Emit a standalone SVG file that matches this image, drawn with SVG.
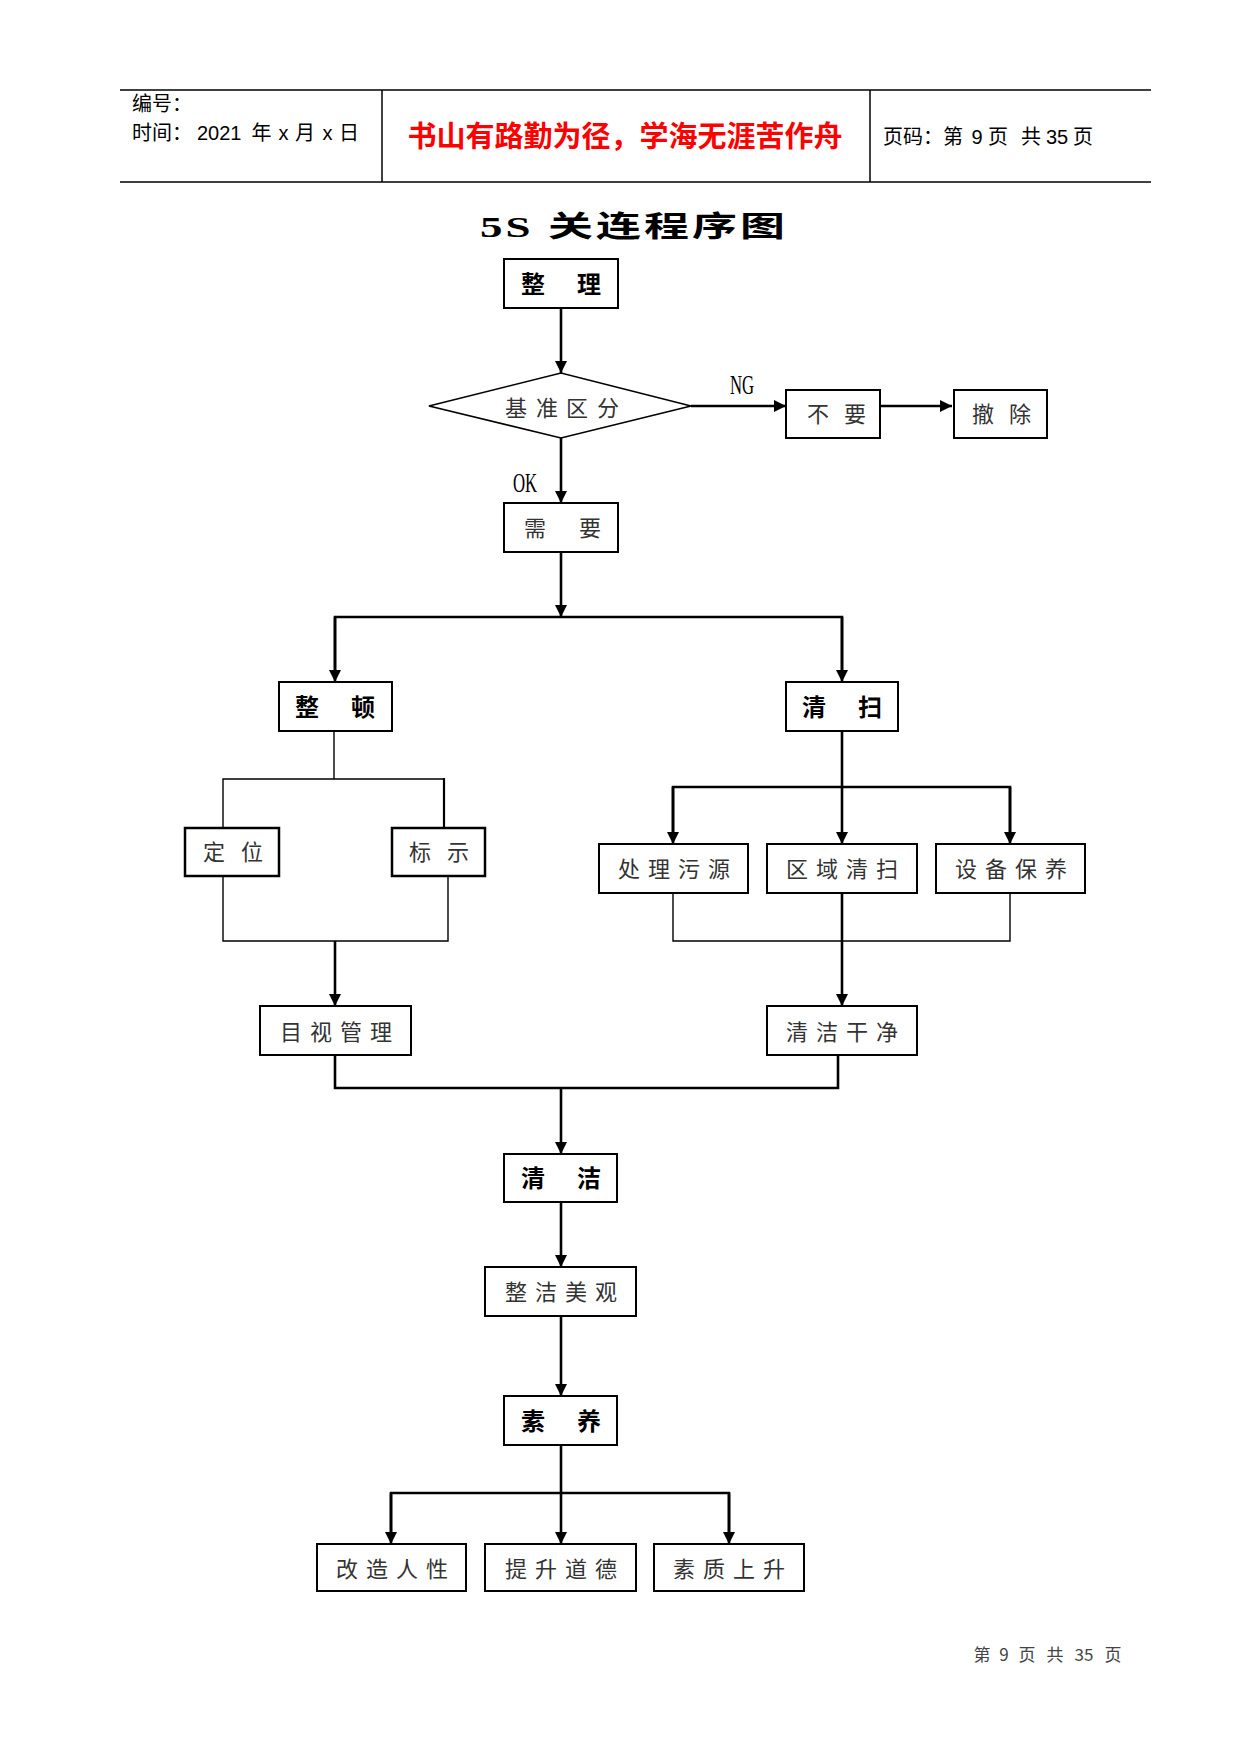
<svg xmlns="http://www.w3.org/2000/svg" width="1241" height="1754" viewBox="0 0 1241 1754">
<style>
  .hl { stroke:#000; stroke-width:1.5; fill:none; }
  .box { fill:#fff; stroke:#000; stroke-width:2; }
  .boxb { fill:#fff; stroke:#000; stroke-width:2.5; }
  .thin { stroke:#000; stroke-width:1.4; fill:none; }
  .thick { stroke:#000; stroke-width:2.6; fill:none; }
  .arr { stroke:#000; stroke-width:2.6; fill:none; marker-end:url(#ah); }
  .bl { font-family:"Noto Sans CJK SC","Liberation Sans",sans-serif; font-size:24px; font-weight:bold; fill:#000; text-anchor:middle; }
  .nl { font-family:"Noto Sans CJK SC","Liberation Sans",sans-serif; font-size:22px; fill:#333; text-anchor:middle; }
  .lab { font-family:"Liberation Serif",serif; font-size:27px; fill:#000; text-anchor:middle; }
  .hd { font-family:"Liberation Sans","Noto Sans CJK SC",sans-serif; font-size:20px; fill:#000; }
  .hdc { font-family:"Liberation Sans","Noto Sans CJK SC",sans-serif; font-size:20px; fill:#000; text-anchor:middle; }
  .ft { font-family:"Noto Sans CJK SC","Liberation Sans",sans-serif; font-size:17px; fill:#444; text-anchor:middle; }
</style>
<defs>
  <marker id="ah" markerWidth="12" markerHeight="12" refX="12" refY="6" orient="auto" markerUnits="userSpaceOnUse">
    <path d="M0,0 L12,6 L0,12 z" fill="#000"/>
  </marker>
</defs>
<rect width="1241" height="1754" fill="#fff"/>

<g id="header">
  <line class="hl" x1="120" y1="90" x2="1151" y2="90"/>
  <line class="hl" x1="120" y1="182" x2="1151" y2="182"/>
  <line class="hl" x1="382" y1="90" x2="382" y2="182"/>
  <line class="hl" x1="870" y1="90" x2="870" y2="182"/>
  <text class="hd" x="132" y="111">编号：</text>
  <text class="hd" x="132" y="140">时间：</text>
  <text class="hd" x="197" y="140" font-size="21">2021</text>
  <text class="hdc" x="261.5 283.5 305 327.5 349" y="140">年x月x日</text>
  <text x="625" y="147" font-family="Noto Sans CJK SC,sans-serif" font-size="29" font-weight="bold" fill="#ff0000" text-anchor="middle">书山有路勤为径，学海无涯苦作舟</text>
  <text class="hd" x="883" y="144" font-size="20.5">页码：第</text>
  <text class="hdc" x="977" y="144" font-size="15">9</text>
  <text class="hdc" x="998 1031" y="144">页共</text>
  <text class="hdc" x="1057" y="144" font-size="15">35</text>
  <text class="hdc" x="1083" y="144">页</text>
</g>

<g id="title">
  <text transform="translate(634,237) scale(1.55,1)" font-family="Liberation Serif,Noto Sans CJK SC,serif" font-size="29" font-weight="bold" fill="#000" text-anchor="middle" letter-spacing="2">5S 关连程序图</text>
</g>

<g id="connectors">
  <line class="arr" x1="561" y1="308" x2="561" y2="373"/>
  <line class="arr" x1="691" y1="406" x2="786" y2="406"/>
  <line class="arr" x1="880" y1="406" x2="952" y2="406"/>
  <line class="arr" x1="561" y1="438" x2="561" y2="503"/>
  <line class="arr" x1="561" y1="552" x2="561" y2="617"/>
  <polyline class="thick" points="335,670 335,617 842,617 842,670"/>
  <line class="arr" x1="335" y1="617" x2="335" y2="682"/>
  <line class="arr" x1="842" y1="617" x2="842" y2="682"/>
  <line class="thin" x1="334" y1="731" x2="334" y2="779"/>
  <polyline class="thin" points="223,828 223,779 444,779"/>
  <line stroke="#000" stroke-width="2.2" x1="444" y1="778" x2="444" y2="828"/>
  <polyline class="thin" points="223,876 223,941 448,941 448,876"/>
  <line class="arr" x1="335" y1="941" x2="335" y2="1006"/>
  <line class="arr" x1="842" y1="731" x2="842" y2="844"/>
  <polyline class="thick" points="673,835 673,787 1010,787 1010,835"/>
  <line class="arr" x1="673" y1="787" x2="673" y2="844"/>
  <line class="arr" x1="1010" y1="787" x2="1010" y2="844"/>
  <polyline class="thin" points="673,893 673,941 1010,941 1010,893"/>
  <line class="arr" x1="842" y1="893" x2="842" y2="1006"/>
  <polyline class="thick" points="335,1055 335,1088 838,1088 838,1055"/>
  <line class="arr" x1="561" y1="1088" x2="561" y2="1154"/>
  <line class="arr" x1="561" y1="1202" x2="561" y2="1267"/>
  <line class="arr" x1="561" y1="1316" x2="561" y2="1396"/>
  <line class="thick" x1="561" y1="1445" x2="561" y2="1493"/>
  <polyline class="thick" points="391,1535 391,1493 729,1493 729,1535"/>
  <line class="arr" x1="391" y1="1493" x2="391" y2="1544"/>
  <line class="arr" x1="561" y1="1493" x2="561" y2="1544"/>
  <line class="arr" x1="729" y1="1493" x2="729" y2="1544"/>
  <g id="edge-labels">
    <text class="lab" transform="translate(742,394) scale(0.62,1)">NG</text>
    <text class="lab" transform="translate(525,492) scale(0.62,1)">OK</text>
  </g>
</g>

<g id="n-zhengli">
  <rect class="box" x="504" y="259" width="114" height="49"/>
  <text class="bl" x="533 589" y="293">整理</text>
</g>
<g id="n-jizhun">
  <polygon points="429,406 561,373 691,406 561,438" fill="#fff" stroke="#000" stroke-width="1.6"/>
  <text class="nl" x="516 547 577 608" y="416">基准区分</text>
</g>
<g id="n-buyao">
  <rect class="box" x="786" y="390" width="94" height="48"/>
  <text class="nl" x="818 855" y="422">不要</text>
</g>
<g id="n-chechu">
  <rect class="box" x="954" y="390" width="93" height="48"/>
  <text class="nl" x="983 1020" y="422">撤除</text>
</g>
<g id="n-xuyao">
  <rect class="box" x="504" y="503" width="114" height="49"/>
  <text class="nl" x="535 590" y="536">需要</text>
</g>
<g id="n-zhengdun">
  <rect class="box" x="279" y="682" width="113" height="49"/>
  <text class="bl" x="307 363" y="716">整顿</text>
</g>
<g id="n-qingsao">
  <rect class="box" x="786" y="682" width="112" height="49"/>
  <text class="bl" x="814 870" y="716">清扫</text>
</g>
<g id="n-dingwei">
  <rect class="boxb" x="185" y="828" width="94" height="48"/>
  <text class="nl" x="214 252" y="860">定位</text>
</g>
<g id="n-biaoshi">
  <rect class="boxb" x="392" y="828" width="93" height="48"/>
  <text class="nl" x="420 458" y="860">标示</text>
</g>
<g id="n-chuli">
  <rect class="box" x="599" y="844" width="149" height="49"/>
  <text class="nl" x="629 659 689 719" y="877">处理污源</text>
</g>
<g id="n-quyu">
  <rect class="box" x="767" y="844" width="150" height="49"/>
  <text class="nl" x="797 827 857 887" y="877">区域清扫</text>
</g>
<g id="n-shebei">
  <rect class="box" x="936" y="844" width="149" height="49"/>
  <text class="nl" x="966 996 1026 1056" y="877">设备保养</text>
</g>
<g id="n-mushi">
  <rect class="box" x="260" y="1006" width="151" height="49"/>
  <text class="nl" x="291 321 351 381" y="1040">目视管理</text>
</g>
<g id="n-qingjieganjing">
  <rect class="box" x="767" y="1006" width="150" height="49"/>
  <text class="nl" x="797 827 857 887" y="1040">清洁干净</text>
</g>
<g id="n-qingjie">
  <rect class="box" x="504" y="1154" width="113" height="48"/>
  <text class="bl" x="533 589" y="1187">清洁</text>
</g>
<g id="n-zhengjie">
  <rect class="box" x="485" y="1267" width="151" height="49"/>
  <text class="nl" x="516 546 576 606" y="1300">整洁美观</text>
</g>
<g id="n-suyang">
  <rect class="box" x="504" y="1396" width="113" height="49"/>
  <text class="bl" x="533 589" y="1430">素养</text>
</g>
<g id="n-gaizao">
  <rect class="box" x="317" y="1544" width="149" height="47"/>
  <text class="nl" x="347 377 407 437" y="1577">改造人性</text>
</g>
<g id="n-tisheng">
  <rect class="box" x="485" y="1544" width="151" height="47"/>
  <text class="nl" x="516 546 576 606" y="1577">提升道德</text>
</g>
<g id="n-suzhi">
  <rect class="box" x="654" y="1544" width="150" height="47"/>
  <text class="nl" x="684 714 744 774" y="1577">素质上升</text>
</g>

<g id="footer">
  <text class="ft" x="982 1004 1027 1055" y="1661">第9页共</text>
  <text class="ft" x="1084" y="1661">35</text>
  <text class="ft" x="1113" y="1661">页</text>
</g>
</svg>
